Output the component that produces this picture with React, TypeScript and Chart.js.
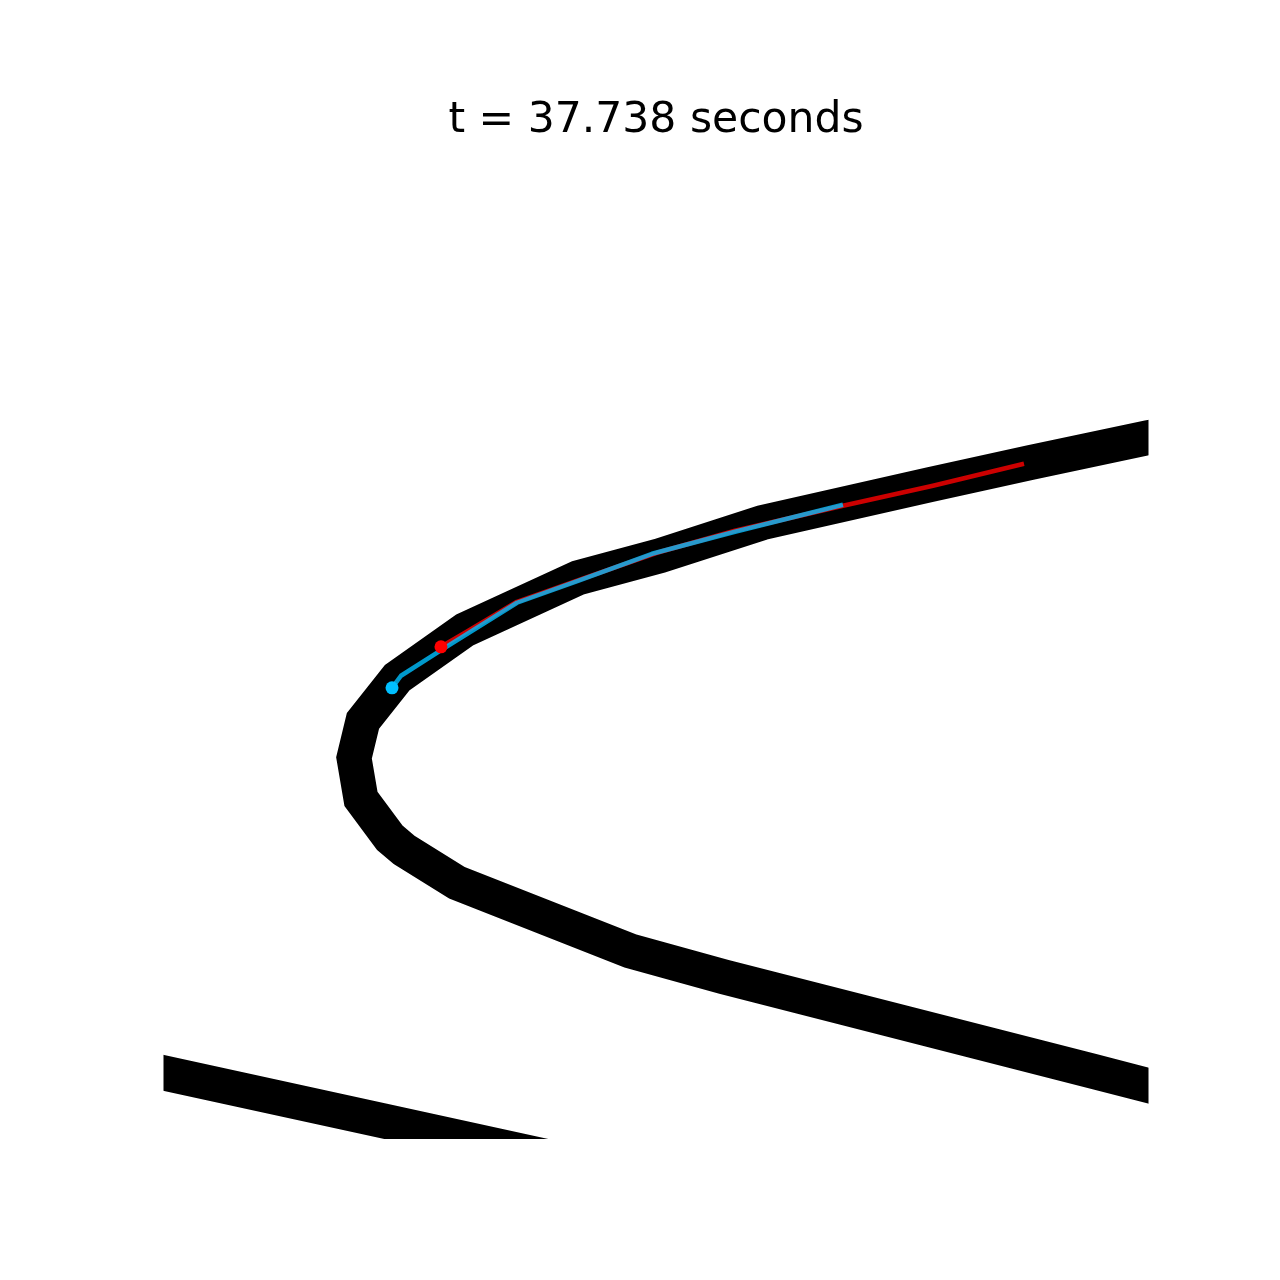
import React, { useEffect, useRef } from "react";
import { Chart, registerables } from "chart.js";

Chart.register(...registerables);

const titleText = "t = 37.738 seconds";

// Track centreline (upper/main branch), x and y in plot units
const trackX = [105.23, 99.95, 87.97, 77.82, 60.76, 50.41, 42.08, 30.61, 23.71, 20.25, 19.34, 20.05, 22.99, 24.42, 29.8, 47.36, 56.9, 94.26, 105.23];
const trackY = [72.18, 71.17, 68.63, 66.4, 62.54, 59.19, 56.95, 51.68, 46.8, 42.44, 38.68, 34.52, 30.56, 29.34, 25.99, 19.09, 16.45, 6.9, 4.06];

// Lower-left piece of track
const track2X = [-6.45, 54.47];
const track2Y = [8.12, -5.18];

// Red trajectory
const redX = [28.17, 30.91, 35.89, 42.49, 50.1, 58.02, 68.98, 78.12, 87.36];
const redY = [49.95, 51.57, 54.52, 56.85, 59.49, 61.73, 64.26, 66.29, 68.53];

// Blue trajectory
const blueX = [23.2, 24.11, 28.07, 35.89, 42.08, 49.59, 58.02, 68.98];
const blueY = [45.79, 47.01, 49.54, 54.42, 56.65, 59.39, 61.62, 64.37];

const redDot = [28.17, 49.95];
const blueDot = [23.2, 45.79];

const toPts = (xs: number[], ys: number[]) => xs.map((x, i) => ({ x, y: ys[i] }));

export default function App() {
  const ref = useRef<HTMLCanvasElement | null>(null);
  useEffect(() => {
    if (!ref.current) return;
    const trackPts: any[] = [...toPts(trackX, trackY), { x: NaN, y: NaN }, ...toPts(track2X, track2Y)];
    const chart = new Chart(ref.current, {
      type: "scatter",
      data: {
        datasets: [
          {
            data: trackPts,
            showLine: true,
            borderColor: "#000000",
            backgroundColor: "#000000",
            borderWidth: 35,
            borderJoinStyle: "miter",
            borderCapStyle: "butt",
            pointRadius: 0,
            spanGaps: false,
            clip: 0,
            order: 5,
          } as any,
          {
            data: toPts(redX, redY),
            showLine: true,
            borderColor: "rgba(255,0,0,0.8)",
            borderWidth: 4.5,
            borderJoinStyle: "round",
            borderCapStyle: "butt",
            pointRadius: 0,
            clip: 0,
            order: 4,
          } as any,
          {
            data: toPts(blueX, blueY),
            showLine: true,
            borderColor: "rgba(0,191,255,0.8)",
            borderWidth: 4.5,
            borderJoinStyle: "round",
            borderCapStyle: "butt",
            pointRadius: 0,
            clip: 0,
            order: 3,
          } as any,
          {
            data: [{ x: redDot[0], y: redDot[1] }],
            showLine: false,
            pointRadius: 6.5,
            pointBorderWidth: 0,
            pointBackgroundColor: "#ff0000",
            backgroundColor: "#ff0000",
            borderWidth: 0,
            clip: 0,
            order: 2,
          } as any,
          {
            data: [{ x: blueDot[0], y: blueDot[1] }],
            showLine: false,
            pointRadius: 6.5,
            pointBorderWidth: 0,
            pointBackgroundColor: "#00bfff",
            backgroundColor: "#00bfff",
            borderWidth: 0,
            clip: 0,
            order: 1,
          } as any,
        ],
      },
      options: {
        animation: false,
        responsive: false,
        maintainAspectRatio: false,
        layout: { padding: { left: 163.5, right: 131.5, top: 0, bottom: 141 } },
        scales: {
          x: { type: "linear", min: 0, max: 100, display: false },
          y: { type: "linear", min: 0, max: 100, display: false },
        },
        plugins: {
          legend: { display: false },
          tooltip: { enabled: false },
          title: {
            display: true,
            text: titleText,
            color: "#000000",
            font: { family: "DejaVu Sans", size: 42.5, weight: "normal", lineHeight: 1.2 },
            padding: { top: 95, bottom: 7.6 },
          },
        },
      } as any,
    });
    return () => chart.destroy();
  }, []);
  return (
    <div style={{ position: "absolute", left: 0, top: 0, width: 1280, height: 1280, background: "#ffffff" }}>
      <canvas ref={ref} width={1280} height={1280} style={{ display: "block", width: 1280, height: 1280 }} />
    </div>
  );
}
